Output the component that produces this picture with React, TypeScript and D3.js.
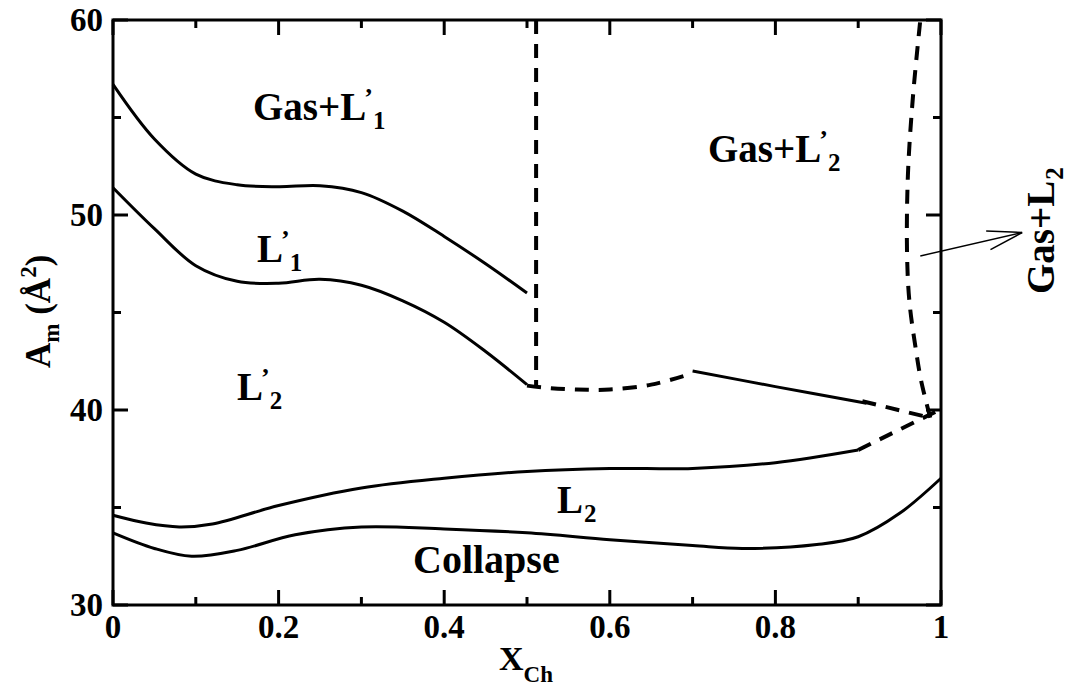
import React, { useEffect, useRef } from 'react';
import * as d3 from 'd3';

// phase boundary curves, x = X_Ch, y = A_m
const xGasL1 = [0, 0.05, 0.1, 0.15, 0.2, 0.25, 0.3, 0.35, 0.4, 0.45, 0.5];
const yGasL1 = [56.7, 53.9, 52.1, 51.55, 51.45, 51.5, 51.15, 50.2, 48.9, 47.5, 46.0];

const xL1L2 = [0, 0.05, 0.1, 0.15, 0.2, 0.25, 0.3, 0.35, 0.4, 0.45, 0.5];
const yL1L2 = [51.4, 49.3, 47.4, 46.6, 46.5, 46.7, 46.4, 45.6, 44.5, 43.0, 41.3];

const xL2Upper = [0, 0.04, 0.08, 0.12, 0.2, 0.3, 0.4, 0.5, 0.6, 0.7, 0.8, 0.9];
const yL2Upper = [34.6, 34.2, 34.0, 34.15, 35.1, 36.0, 36.5, 36.85, 37.0, 37.0, 37.3, 37.95];

const xCollapse = [0, 0.05, 0.095, 0.15, 0.22, 0.3, 0.4, 0.5, 0.6, 0.7, 0.76, 0.85, 0.9, 0.95, 1.0];
const yCollapse = [33.7, 32.9, 32.5, 32.8, 33.6, 34.0, 33.9, 33.7, 33.35, 33.05, 32.9, 33.1, 33.5, 34.7, 36.5];

const xGasL2Solid = [0.7, 0.8, 0.91];
const yGasL2Solid = [42.0, 41.2, 40.35];

// dashed boundaries
const xVertDash = [0.511, 0.511];
const yVertDash = [60, 41.2];

const xBottomDash = [0.5, 0.52, 0.56, 0.6, 0.65, 0.69];
const yBottomDash = [41.25, 41.15, 41.05, 41.05, 41.3, 41.75];

const xRightDash1 = [0.905, 0.987];
const yRightDash1 = [40.45, 39.6];

const xL2Dash = [0.9, 0.993];
const yL2Dash = [37.95, 39.9];

const xSideDash = [0.987, 0.976, 0.97, 0.962, 0.959, 0.96, 0.966, 0.975];
const ySideDash = [39.6, 41.5, 43.0, 45.5, 48.0, 52.0, 56.0, 60.0];

const xArrow = [0.975, 1.098];
const yArrow = [47.9, 49.1];

const xTickLabels = ['0', '0.2', '0.4', '0.6', '0.8', '1'];
const yTickLabels = ['30', '40', '50', '60'];

const W = 1075;
const H = 688;
const FONT = "'Liberation Serif', 'Times New Roman', serif";

function Chart() {
  const ref = useRef<SVGSVGElement>(null);

  useEffect(() => {
    const svg = d3.select(ref.current);
    svg.selectAll('*').remove();

    const x = d3.scaleLinear().domain([0, 1]).range([113, 941]);
    const y = d3.scaleLinear().domain([30, 60]).range([605, 20]);

    const zip = (xs: number[], ys: number[]) => xs.map((v, i) => [v, ys[i]] as [number, number]);

    const lineSmooth = d3.line<[number, number]>()
      .x(d => x(d[0])).y(d => y(d[1]))
      .curve(d3.curveCatmullRom.alpha(0.5));
    const lineStraight = d3.line<[number, number]>()
      .x(d => x(d[0])).y(d => y(d[1]));

    const solid = [
      zip(xGasL1, yGasL1),
      zip(xL1L2, yL1L2),
      zip(xL2Upper, yL2Upper),
      zip(xCollapse, yCollapse),
      zip(xGasL2Solid, yGasL2Solid),
    ];
    svg.selectAll('path.solid')
      .data(solid)
      .enter()
      .append('path')
      .attr('class', 'solid')
      .attr('d', d => lineSmooth(d))
      .attr('fill', 'none')
      .attr('stroke', '#000')
      .attr('stroke-width', 3);

    const dashed = [
      lineStraight(zip(xVertDash, yVertDash)),
      lineSmooth(zip(xBottomDash, yBottomDash)),
      lineStraight(zip(xRightDash1, yRightDash1)),
      lineStraight(zip(xL2Dash, yL2Dash)),
      lineSmooth(zip(xSideDash, ySideDash)),
    ];
    svg.selectAll('path.dash')
      .data(dashed)
      .enter()
      .append('path')
      .attr('class', 'dash')
      .attr('d', d => d)
      .attr('fill', 'none')
      .attr('stroke', '#000')
      .attr('stroke-width', 4)
      .attr('stroke-dasharray', '14,10');

    // arrow with open head
    const ax0 = x(xArrow[0]), ay0 = y(yArrow[0]);
    const ax1 = x(xArrow[1]), ay1 = y(yArrow[1]);
    svg.append('line')
      .attr('x1', ax0).attr('y1', ay0).attr('x2', ax1).attr('y2', ay1)
      .attr('stroke', '#000').attr('stroke-width', 1.5);
    const ang = Math.atan2(ay1 - ay0, ax1 - ax0);
    const hl = 36, ha = 0.27;
    [ha, -ha].forEach(a => {
      svg.append('line')
        .attr('x1', ax1).attr('y1', ay1)
        .attr('x2', ax1 - hl * Math.cos(ang + a))
        .attr('y2', ay1 - hl * Math.sin(ang + a))
        .attr('stroke', '#000').attr('stroke-width', 1.5);
    });

    // frame
    svg.append('rect')
      .attr('x', 113).attr('y', 20).attr('width', 828).attr('height', 585)
      .attr('fill', 'none').attr('stroke', '#000').attr('stroke-width', 3);

    // ticks, inward on all four sides
    const xMajor = d3.range(0, 1.01, 0.2);
    const xMinor = d3.range(0.1, 1, 0.2);
    const yMajor = [30, 40, 50, 60];
    const yMinor = [35, 45, 55];
    const tickG = svg.append('g').attr('stroke', '#000').attr('stroke-width', 3);
    const xt = (vals: number[], len: number) => vals.forEach(v => {
      tickG.append('line').attr('x1', x(v)).attr('x2', x(v)).attr('y1', 605).attr('y2', 605 - len);
      tickG.append('line').attr('x1', x(v)).attr('x2', x(v)).attr('y1', 20).attr('y2', 20 + len);
    });
    const yt = (vals: number[], len: number) => vals.forEach(v => {
      tickG.append('line').attr('y1', y(v)).attr('y2', y(v)).attr('x1', 113).attr('x2', 113 + len);
      tickG.append('line').attr('y1', y(v)).attr('y2', y(v)).attr('x1', 941).attr('x2', 941 - len);
    });
    xt(xMajor, 15); xt(xMinor, 8); yt(yMajor, 15); yt(yMinor, 8);

    // tick labels
    svg.selectAll('text.xtl')
      .data(xMajor)
      .enter()
      .append('text')
      .attr('class', 'xtl')
      .attr('x', d => x(d))
      .attr('y', 638)
      .attr('text-anchor', 'middle')
      .attr('font-family', FONT).attr('font-weight', 'bold').attr('font-size', 33)
      .text((d, i) => xTickLabels[i]);
    svg.selectAll('text.ytl')
      .data(yMajor)
      .enter()
      .append('text')
      .attr('class', 'ytl')
      .attr('x', 103)
      .attr('y', d => y(d) + 11)
      .attr('text-anchor', 'end')
      .attr('font-family', FONT).attr('font-weight', 'bold').attr('font-size', 33)
      .text((d, i) => yTickLabels[i]);

    // axis titles
    const xt1 = svg.append('text').attr('x', 499).attr('y', 670)
      .attr('font-family', FONT).attr('font-weight', 'bold').attr('font-size', 34);
    xt1.append('tspan').text('X');
    xt1.append('tspan').attr('dy', 12).attr('font-size', 23).text('Ch');

    const yt1 = svg.append('text').attr('transform', 'translate(50,368) rotate(-90)')
      .attr('font-family', FONT).attr('font-weight', 'bold').attr('font-size', 35);
    yt1.append('tspan').text('A');
    yt1.append('tspan').attr('dy', 9).attr('font-size', 23).text('m');
    yt1.append('tspan').attr('dy', -9).text(' (Å');
    yt1.append('tspan').attr('dy', -14).attr('font-size', 23).text('2');
    yt1.append('tspan').attr('dy', 14).text(')');

    // region labels
    const label = (tx: number, ty: number, main: string, sub: string, prime: boolean, rot = false) => {
      const t = svg.append('text')
        .attr('font-family', FONT).attr('font-weight', 'bold').attr('font-size', 39);
      if (rot) t.attr('transform', `translate(${tx},${ty}) rotate(-90)`);
      else t.attr('x', tx).attr('y', ty);
      t.append('tspan').text(main);
      if (prime) {
        t.append('tspan').attr('dx', -2).attr('dy', -14).attr('font-size', 26).text('\u2019');
        t.append('tspan').attr('dx', 0).attr('dy', 23).attr('font-size', 25).text(sub);
      } else {
        t.append('tspan').attr('dx', 1).attr('dy', 9).attr('font-size', 25).text(sub);
      }
    };
    label(253, 120, 'Gas+L', '1', true);
    label(257, 262, 'L', '1', true);
    label(237, 400, 'L', '2', true);
    label(708, 162, 'Gas+L', '2', true);
    label(557, 513, 'L', '2', false);
    svg.append('text').attr('x', 413).attr('y', 573)
      .attr('font-family', FONT).attr('font-weight', 'bold').attr('font-size', 40)
      .text('Collapse');
    label(1054, 294, 'Gas+L', '2', false, true);
  }, []);

  return <svg ref={ref} width={W} height={H} style={{ position: 'absolute', left: 0, top: 0, background: '#fff' }} />;
}

export default function App() {
  return <Chart />;
}
